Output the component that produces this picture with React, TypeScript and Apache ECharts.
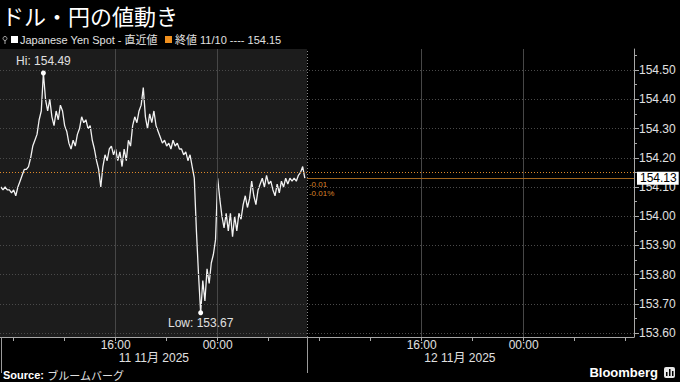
import React, { useEffect, useRef } from 'react';
import * as echarts from 'echarts';

const TITLE = 'ドル・円の値動き';
const SERIES_NAME = 'Japanese Yen Spot - 直近値';
const PREV_CLOSE_LABEL = '終値 11/10 ---- 154.15';
const PREV_CLOSE = 154.15;
const LAST_PRICE = 154.13;
const CHANGE_TEXT = ['-0.01', '-0.01%'];
const SOURCE_LABEL = 'ブルームバーグ';

// hours counted from 2025-11-11 00:00 (Tokyo)
const START_HOUR = 7;
const STEP_MINUTES = 10;
const prices = [
  154.10, 154.09, 154.10, 154.09, 154.09, 154.08, 154.09, 154.07, 154.10, 154.12,
  154.14, 154.16, 154.16, 154.17, 154.20, 154.24, 154.26, 154.28, 154.33, 154.36,
  154.49, 154.40, 154.36, 154.40, 154.34, 154.31, 154.36, 154.33, 154.38, 154.36,
  154.31, 154.29, 154.25, 154.23, 154.26, 154.24, 154.28, 154.30, 154.34, 154.32,
  154.33, 154.30, 154.31, 154.26, 154.23, 154.19, 154.16, 154.10, 154.17, 154.21,
  154.19, 154.23, 154.24, 154.21, 154.23, 154.19, 154.22, 154.17, 154.23, 154.19,
  154.26, 154.24, 154.31, 154.34, 154.32, 154.36, 154.38, 154.44, 154.34, 154.30,
  154.35, 154.32, 154.36, 154.31, 154.29, 154.27, 154.25, 154.26, 154.24, 154.25,
  154.23, 154.26, 154.24, 154.25, 154.23, 154.23, 154.21, 154.22, 154.19, 154.21,
  154.17, 154.13, 153.95, 153.80, 153.67, 153.78, 153.71, 153.82, 153.77, 153.84,
  153.87, 153.92, 154.13, 154.06, 154.00, 153.96, 154.01, 153.95, 154.01, 153.93,
  154.00, 153.95, 154.01, 153.99, 154.04, 154.07, 154.03, 154.06, 154.12, 154.07,
  154.04, 154.09, 154.11, 154.13, 154.10, 154.14, 154.11, 154.12, 154.09, 154.07,
  154.11, 154.08, 154.12, 154.10, 154.13, 154.11, 154.13, 154.12, 154.13, 154.12,
  154.14, 154.15, 154.17, 154.13,
];

const yTicks = [153.6, 153.7, 153.8, 153.9, 154.0, 154.1, 154.2, 154.3, 154.4, 154.5];
const yMinorTicks = [153.65, 153.75, 153.85, 153.95, 154.05, 154.15, 154.25, 154.35, 154.45, 154.55];
const xTickHours = [8, 12, 16, 20, 24, 28, 32, 36, 40, 44, 48, 52, 56];
const xLabelHours = [16, 24, 40, 48];
const xGridHours = [16, 24, 40, 48];
const dayBoundaryHours = [7, 31];
const dayCenterHours = [19, 43];
const dayLabels = ['11 11月 2025', '12 11月 2025'];

const X_MIN = 6.93;
const X_MAX = 56.65;
const Y_MIN = 153.587;
const Y_MAX = 154.572;
const SESSION_END = 31;

const FONT = "'Liberation Sans', Arial, 'Noto Sans CJK JP', sans-serif";
const CJK = "'Noto Sans CJK JP', 'Liberation Sans', sans-serif";

export default function App() {
  const ref = useRef<HTMLDivElement>(null);

  useEffect(() => {
    if (!ref.current) return;
    const chart = echarts.init(ref.current, null, { renderer: 'svg' });
    const data = prices.map((p, i) => [START_HOUR + (i * STEP_MINUTES) / 60, p]);

    const option: any = {
      animation: false,
      backgroundColor: '#000',
      textStyle: { fontFamily: FONT },
      grid: { left: 0, right: 46, top: 49, bottom: 45, containLabel: false },
      xAxis: [
        {
          type: 'value',
          min: X_MIN,
          max: X_MAX,
          position: 'bottom',
          axisLine: { show: true, lineStyle: { color: '#a8a8a8', width: 1 } },
          axisTick: { show: true, customValues: xTickHours, length: 4, lineStyle: { color: '#a8a8a8' } },
          axisLabel: {
            show: true,
            customValues: xLabelHours,
            margin: 2,
            color: '#e0e0e0',
            fontSize: 12,
            fontFamily: FONT,
            formatter: (v: number) => String(((v % 24) + 24) % 24).padStart(2, '0') + ':00',
          },
          splitLine: { show: false },
        },
        {
          type: 'value',
          min: X_MIN,
          max: X_MAX,
          position: 'bottom',
          offset: 0,
          axisLine: { show: false },
          axisTick: { show: true, customValues: dayBoundaryHours, length: 36, lineStyle: { color: '#9a9a9a' } },
          axisLabel: {
            show: true,
            customValues: dayCenterHours,
            margin: 15,
            color: '#e0e0e0',
            fontSize: 12,
            fontFamily: FONT,
            formatter: (v: number) => dayLabels[dayCenterHours.indexOf(v)] ?? '',
          },
          splitLine: { show: false },
        },
      ],
      yAxis: [
        {
          type: 'value',
          position: 'right',
          min: Y_MIN,
          max: Y_MAX,
          axisLine: { show: true, lineStyle: { color: '#a8a8a8' } },
          axisTick: { show: true, customValues: yTicks, length: 5, lineStyle: { color: '#a8a8a8' } },
          axisLabel: {
            show: true,
            customValues: yTicks,
            margin: 5,
            color: '#e0e0e0',
            fontSize: 12,
            fontFamily: FONT,
            formatter: (v: number) => v.toFixed(2),
          },
          splitLine: { show: false },
        },
        {
          type: 'value',
          position: 'right',
          offset: 0,
          min: Y_MIN,
          max: Y_MAX,
          axisLine: { show: false },
          axisTick: { show: true, customValues: yMinorTicks, length: 3, lineStyle: { color: '#a8a8a8' } },
          axisLabel: { show: false },
          splitLine: { show: false },
        },
      ],
      series: [
        {
          type: 'line',
          name: 'grid-helper',
          data,
          z: 1,
          silent: true,
          showSymbol: false,
          lineStyle: { opacity: 0, width: 0 },
          markArea: {
            silent: true,
            itemStyle: { color: '#1c1c1c' },
            data: [[{ xAxis: X_MIN }, { xAxis: SESSION_END }]],
          },
          markLine: {
            silent: true,
            symbol: 'none',
            label: { show: false },
            data: [
              ...yTicks.map((v) => ({ yAxis: v, lineStyle: { color: '#4a4a4a', type: [1, 2], width: 1 } })),
              ...xGridHours.map((h) => ({ xAxis: h, lineStyle: { color: '#474747', type: 'solid', width: 1 } })),
              { xAxis: SESSION_END, lineStyle: { color: '#8a8a8a', type: [1, 2], width: 1 } },
            ],
          },
        },
        {
          type: 'line',
          name: SERIES_NAME,
          data,
          z: 3,
          showSymbol: false,
          color: '#f2f2f2',
          lineStyle: { color: '#f2f2f2', width: 1.3 },
          markPoint: {
            symbol: 'circle',
            symbolSize: 5,
            itemStyle: { color: '#ffffff' },
            data: [
              {
                type: 'max',
                label: { show: true, position: 'top', distance: 3, color: '#e0e0e0', fontSize: 12, formatter: (p: any) => 'Hi: ' + Number(p.value).toFixed(2) },
              },
              {
                type: 'min',
                label: { show: true, position: 'bottom', distance: 2, color: '#e0e0e0', fontSize: 12, formatter: (p: any) => 'Low: ' + Number(p.value).toFixed(2) },
              },
            ],
          },
        },
        {
          type: 'line',
          name: 'overlay',
          data,
          z: 5,
          silent: true,
          showSymbol: false,
          lineStyle: { opacity: 0, width: 0 },
          markLine: {
            silent: true,
            symbol: 'none',
            data: [
              { yAxis: PREV_CLOSE, label: { show: false }, lineStyle: { color: '#e08a2a', type: [1, 2], width: 1 } },
              [
                {
                  coord: [SESSION_END, LAST_PRICE],
                  lineStyle: { color: '#a0651e', type: 'solid', width: 1.2 },
                  label: {
                    show: true,
                    position: 'end',
                    distance: 3,
                    formatter: () => LAST_PRICE.toFixed(2),
                    backgroundColor: '#ffffff',
                    color: '#000000',
                    fontSize: 12,
                    fontFamily: FONT,
                    padding: [1, 2, 0, 3],
                  },
                },
                { coord: [X_MAX, LAST_PRICE] },
              ],
              [
                {
                  coord: [SESSION_END, LAST_PRICE],
                  lineStyle: { color: 'rgba(0,0,0,0)', width: 1 },
                  label: {
                    show: true,
                    position: 'insideStartBottom',
                    distance: 2,
                    formatter: () => CHANGE_TEXT.join('\n'),
                    color: '#d8822a',
                    fontSize: 8,
                    lineHeight: 9,
                    fontFamily: FONT,
                  },
                },
                { coord: [X_MAX, LAST_PRICE] },
              ],
            ],
          },
        },
      ],
      graphic: [
        {
          type: 'text',
          left: 2,
          top: 4,
          style: { text: TITLE, fill: '#ffffff', fontSize: 22, fontFamily: CJK },
        },
        // legend
        { type: 'circle', shape: { cx: 5, cy: 38.5, r: 2 }, style: { fill: 'none', stroke: '#aaa', lineWidth: 1 } },
        { type: 'line', shape: { x1: 5, y1: 40.5, x2: 5, y2: 44 }, style: { stroke: '#aaa', lineWidth: 1 } },
        { type: 'rect', shape: { x: 11, y: 36, width: 7, height: 7 }, style: { fill: '#ffffff' } },
        {
          type: 'text',
          left: 20,
          top: 34,
          style: { text: SERIES_NAME, fill: '#e0e0e0', fontSize: 11, fontFamily: FONT },
        },
        { type: 'rect', shape: { x: 165, y: 36, width: 7, height: 7 }, style: { fill: '#f0901e' } },
        {
          type: 'text',
          left: 175,
          top: 34,
          style: { text: PREV_CLOSE_LABEL, fill: '#e0e0e0', fontSize: 11, fontFamily: FONT },
        },
        // footer
        {
          type: 'text',
          left: 3,
          top: 369,
          style: {
            text: '{b|Source:} {n|' + SOURCE_LABEL + '}',
            rich: {
              b: { fill: '#ffffff', fontSize: 11, fontWeight: 'bold', fontFamily: FONT },
              n: { fill: '#e0e0e0', fontSize: 11, fontFamily: CJK },
            },
          },
        },
        {
          type: 'text',
          right: 22,
          top: 366,
          style: { text: 'Bloomberg', fill: '#ffffff', fontSize: 13, fontWeight: 'bold', fontFamily: FONT },
        },
        { type: 'rect', shape: { x: 664, y: 367, width: 11, height: 11, r: 2 }, style: { fill: '#e6e6e6' } },
        { type: 'rect', shape: { x: 666, y: 372, width: 1.5, height: 4 }, style: { fill: '#000' } },
        { type: 'rect', shape: { x: 669, y: 369, width: 1.5, height: 7 }, style: { fill: '#000' } },
        { type: 'rect', shape: { x: 672, y: 371, width: 1.5, height: 5 }, style: { fill: '#000' } },
      ],
    };

    chart.setOption(option);
    return () => chart.dispose();
  }, []);

  return (
    <div
      ref={ref}
      style={{ position: 'fixed', left: 0, top: 0, width: 680, height: 382, background: '#000' }}
    />
  );
}
